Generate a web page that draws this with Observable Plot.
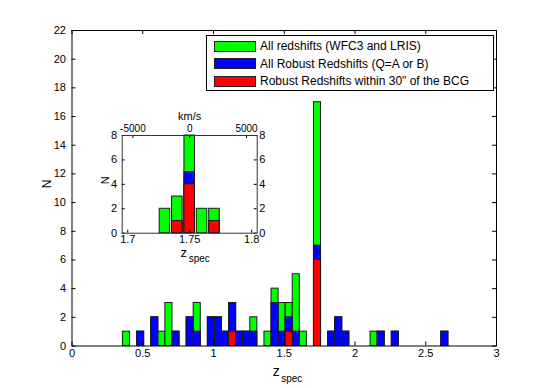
<!DOCTYPE html>
<html>
<head>
<meta charset="utf-8">
<script src="https://cdn.jsdelivr.net/npm/d3@7"></script>
<script src="https://cdn.jsdelivr.net/npm/@observablehq/plot@0.6"></script>
<style>
  html, body { margin: 0; padding: 0; background: #fff; }
  #fig { position: relative; width: 548px; height: 388px; background: #fff; font-family: "Liberation Sans", Arial, Helvetica, sans-serif; }
  #fig svg { position: absolute; overflow: visible; }
  #legend { position: absolute; left: 206px; top: 35px; width: 286px; height: 54px; border: 1px solid #000; background: #fff; font-size: 12px; color: #000; }
  .lrow { position: absolute; left: 7px; height: 12px; display: flex; align-items: center; white-space: nowrap; }
  .sw { width: 40px; height: 9px; border: 1px solid #222; margin-right: 4px; }
</style>
</head>
<body>
<div id="fig"></div>
<script>
// ---------- main histogram data (bin centres in z, counts per series) ----------
const binCenters = [0.385, 0.485, 0.585, 0.635, 0.685, 0.735, 0.835, 0.885, 0.985, 1.035,
                    1.085, 1.135, 1.185, 1.235, 1.285, 1.385, 1.435, 1.485, 1.535, 1.585,
                    1.635, 1.735, 1.835, 1.885, 1.935, 2.135, 2.185, 2.285, 2.635];
const allCounts    = [1, 1, 2, 1, 3, 1, 2, 3, 2, 2,
                      1, 3, 1, 1, 2, 1, 4, 3, 3, 5,
                      1, 17, 1, 2, 1, 1, 1, 1, 1];
const robustCounts = [0, 1, 2, 0, 0, 1, 2, 1, 2, 2,
                      1, 3, 1, 1, 1, 0, 3, 1, 2, 1,
                      0, 7, 1, 2, 1, 0, 1, 1, 1];
const bcgCounts    = [0, 0, 0, 0, 0, 0, 0, 0, 0, 0,
                      0, 1, 0, 0, 0, 0, 0, 0, 1, 0,
                      0, 6, 0, 0, 0, 0, 0, 0, 0];
const binWidth = 0.05;

// ---------- inset data ----------
const insetCenters = [1.73, 1.74, 1.75, 1.76, 1.77];
const insetAll     = [2, 3, 8, 2, 2];
const insetRobust  = [0, 1, 5, 0, 1];
const insetBcg     = [0, 1, 4, 0, 1];
const insetBarWidth = 0.0085;
const zCluster = 1.75;
const cLight = 299792.458;

// ---------- ticks / labels ----------
const xTicks = [0, 0.5, 1, 1.5, 2, 2.5, 3];
const yTicks = [0, 2, 4, 6, 8, 10, 12, 14, 16, 18, 20, 22];
const insetXTicks = [1.7, 1.75, 1.8];
const insetYTicks = [0, 2, 4, 6, 8];
const velTicks = [-5000, 0, 5000];
const seriesNames = ["All redshifts (WFC3 and LRIS)", "All Robust Redshifts (Q=A or B)", "Robust Redshifts within 30\" of the BCG"];
const seriesColors = ["#00ff00", "#0000ff", "#ff0000"];

const font = "'Liberation Sans', Arial, Helvetica, sans-serif";
const fig = document.getElementById("fig");

// ---------- main plot ----------
const mRows = binCenters.map((c, i) => ({x1: c - binWidth / 2, x2: c + binWidth / 2, all: allCounts[i], robust: robustCounts[i], bcg: bcgCounts[i]}));
const W = 548, H = 388, mL = 71.5, mR = 52, mT = 30, mB = 42.5;
const fw = W - mL - mR, fh = H - mT - mB;
const barStyle = {stroke: "#1a1a1a", strokeWidth: 1};

const main = Plot.plot({
  width: W, height: H,
  marginLeft: mL, marginRight: mR, marginTop: mT, marginBottom: mB,
  style: {fontFamily: font, fontSize: "11px", background: "transparent", color: "#000"},
  x: {domain: [0, 3]},
  y: {domain: [0, 22]},
  marks: [
    Plot.rect(mRows.filter(d => d.all > 0), {x1: "x1", x2: "x2", y1: 0, y2: "all", fill: seriesColors[0], ...barStyle}),
    Plot.rect(mRows.filter(d => d.robust > 0), {x1: "x1", x2: "x2", y1: 0, y2: "robust", fill: seriesColors[1], ...barStyle}),
    Plot.rect(mRows.filter(d => d.bcg > 0), {x1: "x1", x2: "x2", y1: 0, y2: "bcg", fill: seriesColors[2], ...barStyle}),
    Plot.ruleX(xTicks, {x: d => d, insetTop: fh - 4, stroke: "#000"}),
    Plot.ruleX(xTicks, {x: d => d, insetBottom: fh - 4, stroke: "#000"}),
    Plot.ruleY(yTicks, {y: d => d, insetRight: fw - 4, stroke: "#000"}),
    Plot.ruleY(yTicks, {y: d => d, insetLeft: fw - 4, stroke: "#000"}),
    Plot.frame({stroke: "#000"}),
    Plot.axisX({ticks: xTicks, tickSize: 0, tickPadding: 3, tickFormat: d => String(d), label: null}),
    Plot.axisY({ticks: yTicks, tickSize: 0, tickPadding: 6, tickFormat: d => String(d), label: null}),
    Plot.text(["N"], {frameAnchor: "left", dx: -25, rotate: -90, fontSize: 12, fill: "#000"}),
    Plot.text(["z"], {frameAnchor: "bottom", dy: 30, dx: -8, fontSize: 14, fill: "#000"}),
    Plot.text(["spec"], {frameAnchor: "bottom", dy: 36, dx: -3, textAnchor: "start", fontSize: 10, fill: "#000"})
  ]
});
main.style.left = "0px"; main.style.top = "0px";
fig.appendChild(main);

// ---------- inset ----------
const iRows = insetCenters.map((c, i) => ({x1: c - insetBarWidth / 2, x2: c + insetBarWidth / 2, all: insetAll[i], robust: insetRobust[i], bcg: insetBcg[i]}));
const vToZ = v => zCluster + v / cLight * (1 + zCluster);
const zToV = z => Math.round((z - zCluster) / (1 + zCluster) * cLight);
const iW = 185, iH = 170, iL = 26.7, iR = 23.3, iT = 35, iB = 37.3;
const ifw = iW - iL - iR, ifh = iH - iT - iB;

const inset = Plot.plot({
  width: iW, height: iH,
  marginLeft: iL, marginRight: iR, marginTop: iT, marginBottom: iB,
  style: {fontFamily: font, fontSize: "11px", background: "transparent", color: "#000"},
  x: {domain: [1.6955, 1.8045]},
  y: {domain: [0, 8]},
  marks: [
    Plot.frame({fill: "#fff", stroke: "none"}),
    Plot.rect(iRows.filter(d => d.all > 0), {x1: "x1", x2: "x2", y1: 0, y2: "all", fill: seriesColors[0], ...barStyle}),
    Plot.rect(iRows.filter(d => d.robust > 0), {x1: "x1", x2: "x2", y1: 0, y2: "robust", fill: seriesColors[1], ...barStyle}),
    Plot.rect(iRows.filter(d => d.bcg > 0), {x1: "x1", x2: "x2", y1: 0, y2: "bcg", fill: seriesColors[2], ...barStyle}),
    Plot.ruleX(insetXTicks, {x: d => d, insetTop: ifh - 3, stroke: "#000"}),
    Plot.ruleX(velTicks.map(vToZ), {x: d => d, insetBottom: ifh - 3, stroke: "#000"}),
    Plot.ruleY(insetYTicks, {y: d => d, insetRight: ifw - 3, stroke: "#000"}),
    Plot.ruleY(insetYTicks, {y: d => d, insetLeft: ifw - 3, stroke: "#000"}),
    Plot.frame({stroke: "#333"}),
    Plot.axisX({anchor: "bottom", ticks: insetXTicks, tickSize: 0, tickPadding: 2, tickFormat: d => String(d), label: null}),
    Plot.axisX({anchor: "top", ticks: velTicks.map(vToZ), tickSize: 0, tickPadding: 4, fontSize: 10, tickFormat: z => String(zToV(z)), label: null}),
    Plot.axisY({anchor: "left", ticks: insetYTicks, tickSize: 0, tickPadding: 5, tickFormat: d => String(d), label: null}),
    Plot.axisY({anchor: "right", ticks: insetYTicks, tickSize: 0, tickPadding: 2, tickFormat: d => String(d), label: null}),
    Plot.text(["km/s"], {frameAnchor: "top", dy: -23, fontSize: 11, fill: "#000"}),
    Plot.text(["N"], {frameAnchor: "left", dx: -17, rotate: -90, fontSize: 11, fill: "#000"}),
    Plot.text(["z"], {frameAnchor: "bottom", dy: 24, dx: -6, fontSize: 13, fill: "#000"}),
    Plot.text(["spec"], {frameAnchor: "bottom", dy: 29, dx: -1, textAnchor: "start", fontSize: 10, fill: "#000"})
  ]
});
inset.style.left = "95px"; inset.style.top = "100px";
fig.appendChild(inset);

// ---------- legend ----------
const legend = document.createElement("div");
legend.id = "legend";
const rowTops = [4, 21.5, 39];
seriesNames.forEach((name, i) => {
  const row = document.createElement("div");
  row.className = "lrow";
  row.style.top = rowTops[i] + "px";
  const sw = document.createElement("div");
  sw.className = "sw";
  sw.style.background = seriesColors[i];
  const t = document.createElement("span");
  t.textContent = name;
  row.appendChild(sw); row.appendChild(t);
  legend.appendChild(row);
});
fig.appendChild(legend);
</script>
</body>
</html>
